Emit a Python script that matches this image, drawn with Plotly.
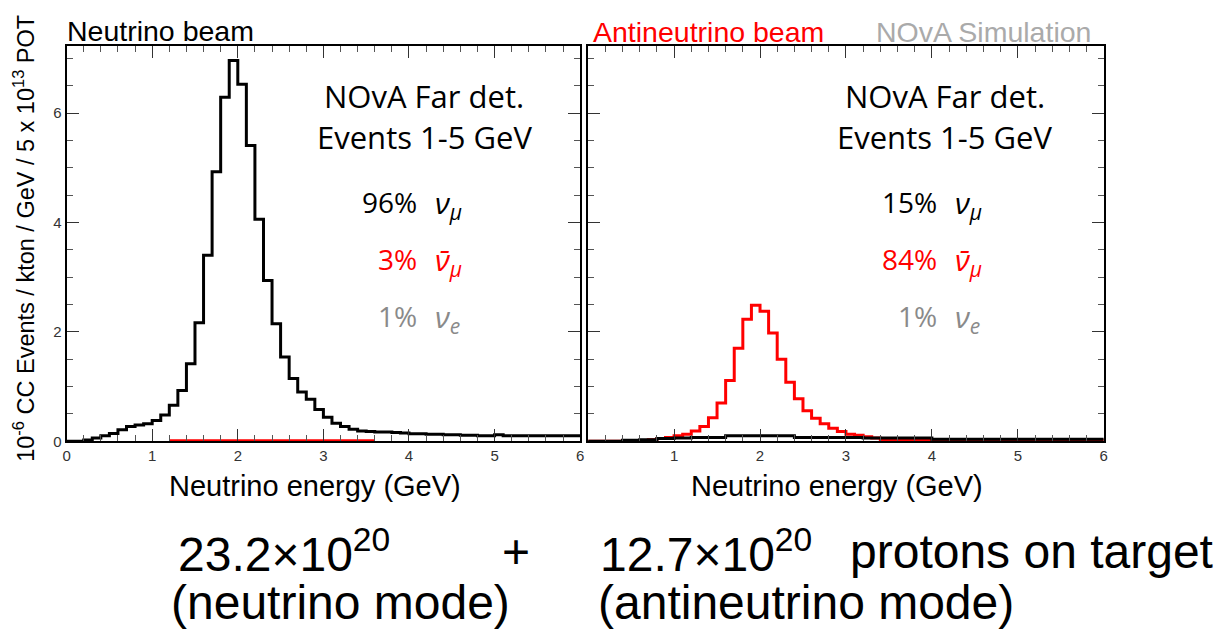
import plotly.graph_objects as go

# Figure size in pixels
W, H = 1222, 631

# 0.1 GeV bins from 0 to 6 GeV
bin_edges = [round(i * 0.1, 1) for i in range(61)]

# Neutrino beam (FHC): numu CC spectrum, 10^-6 events / kton / GeV / 5e13 POT
numu_fhc = [
    0.00, 0.00, 0.025, 0.06, 0.10, 0.145, 0.21, 0.27, 0.30, 0.32,
    0.38, 0.48, 0.66, 0.93, 1.42, 2.17, 3.40, 4.93, 6.29, 6.96,
    6.53, 5.41, 4.06, 2.94, 2.15, 1.54, 1.15, 0.90, 0.77, 0.58,
    0.44, 0.33, 0.27, 0.22, 0.19, 0.18, 0.17, 0.17, 0.16, 0.15,
    0.14, 0.14, 0.13, 0.13, 0.12, 0.12, 0.11, 0.11, 0.10, 0.10,
    0.12, 0.10, 0.10, 0.10, 0.10, 0.10, 0.10, 0.10, 0.10, 0.10,
]
# Neutrino beam: wrong-sign numubar component (1.2-3.6 GeV)
numubar_fhc_range = (12, 36)
numubar_fhc = [0.02] * 24

# Antineutrino beam (RHC): numubar CC spectrum
numubar_rhc = [
    0.00, 0.00, 0.00, 0.00, 0.00, 0.01, 0.015, 0.03, 0.05, 0.07,
    0.10, 0.13, 0.19, 0.27, 0.43, 0.70, 1.11, 1.70, 2.23, 2.49,
    2.38, 1.98, 1.50, 1.08, 0.78, 0.56, 0.42, 0.32, 0.24, 0.18,
    0.13, 0.11, 0.085, 0.06, 0.03, 0.02, 0.02, 0.02, 0.02, 0.02,
    0.02, 0.02, 0.02, 0.02, 0.02, 0.02, 0.02, 0.02, 0.02, 0.02,
    0.02, 0.02, 0.02, 0.02, 0.02, 0.02, 0.02, 0.02, 0.02, 0.02,
]
# Antineutrino beam: wrong-sign numu component
numu_rhc = [
    0.00, 0.00, 0.00, 0.00, 0.02, 0.02, 0.03, 0.03, 0.05, 0.05,
    0.06, 0.06, 0.07, 0.07, 0.07, 0.07, 0.10, 0.10, 0.10, 0.10,
    0.10, 0.10, 0.10, 0.10, 0.07, 0.07, 0.07, 0.07, 0.07, 0.07,
    0.07, 0.07, 0.06, 0.06, 0.06, 0.06, 0.06, 0.06, 0.06, 0.06,
    0.04, 0.04, 0.04, 0.04, 0.04, 0.04, 0.04, 0.04, 0.04, 0.04,
    0.04, 0.04, 0.04, 0.04, 0.04, 0.04, 0.04, 0.04, 0.04, 0.04,
]

# Beam composition (events 1-5 GeV)
fhc_fractions = ["96%", "3%", "1%"]
rhc_fractions = ["15%", "84%", "1%"]
flavour_labels = ["<i>ν<sub>μ</sub></i>", "<i>ν\u0304<sub>μ</sub></i>", "<i>ν<sub>e</sub></i>"]
flavour_colors = ["#000000", "#ff0000", "#8a8a8a"]

y_max = 7.22
x_ticks = [0, 1, 2, 3, 4, 5, 6]
y_ticks = [0, 2, 4, 6]


def px(x):
    return x / W


def py(y):
    return 1 - y / H


def step(values, lo=0, hi=60):
    xs = bin_edges[lo:hi + 1]
    ys = list(values) + [values[-1]]
    return xs, ys


fig = go.Figure()

x, y = step(numu_fhc)
fig.add_trace(go.Scatter(x=x, y=y, mode="lines", line=dict(shape="hv", color="black", width=3),
                         xaxis="x", yaxis="y", showlegend=False))
x, y = step(numubar_fhc, *numubar_fhc_range)
fig.add_trace(go.Scatter(x=x, y=y, mode="lines", line=dict(shape="hv", color="red", width=2),
                         xaxis="x", yaxis="y", showlegend=False))
x, y = step(numubar_rhc)
fig.add_trace(go.Scatter(x=x, y=y, mode="lines", line=dict(shape="hv", color="red", width=3),
                         xaxis="x2", yaxis="y2", showlegend=False))
x, y = step(numu_rhc)
fig.add_trace(go.Scatter(x=x, y=y, mode="lines", line=dict(shape="hv", color="black", width=3),
                         xaxis="x2", yaxis="y2", showlegend=False))

tick_font = dict(family="Liberation Sans Narrow, Liberation Sans, Arial", size=15, color="#333333")
ydom = [py(447), py(47)]

common_x = dict(range=[0, 6], showline=True, linewidth=2, linecolor="black", mirror="ticks",
                ticks="inside", ticklen=12, tickwidth=1.3, tickcolor="#333333",
                minor=dict(dtick=0.2, ticklen=6, ticks="inside", tickwidth=1, tickcolor="#555555"),
                showgrid=False, zeroline=False, tickfont=tick_font, fixedrange=True)
common_y = dict(range=[0, y_max], showline=True, linewidth=2, linecolor="black", mirror="ticks",
                ticks="inside", ticklen=12, tickwidth=1.3, tickcolor="#333333",
                minor=dict(dtick=0.5, ticklen=6, ticks="inside", tickwidth=1, tickcolor="#555555"),
                showgrid=False, zeroline=False, tickfont=tick_font, fixedrange=True)

fig.update_layout(
    width=W, height=H,
    margin=dict(l=0, r=0, t=0, b=0),
    paper_bgcolor="white", plot_bgcolor="white",
    xaxis=dict(domain=[px(63), px(580)], anchor="y", tickvals=x_ticks,
               ticktext=[str(v) for v in x_ticks], **common_x),
    yaxis=dict(domain=ydom, anchor="x", tickvals=y_ticks,
               ticktext=[str(v) for v in y_ticks], **common_y),
    xaxis2=dict(domain=[px(588), px(1107)], anchor="y2", tickvals=x_ticks[1:],
                ticktext=[str(v) for v in x_ticks[1:]], **common_x),
    yaxis2=dict(domain=ydom, anchor="x2", tickvals=y_ticks, showticklabels=False, **common_y),
)

ann = []


def text(x, y, s, size, color="black", family="Liberation Sans, Arial", xanchor="center", angle=0):
    ann.append(dict(x=px(x), y=py(y), xref="paper", yref="paper", text=s, showarrow=False,
                    xanchor=xanchor, yanchor="middle", textangle=angle,
                    font=dict(family=family, size=size, color=color)))


arial = "Liberation Sans, Arial"
box_font = "Open Sans, Noto Sans"

# Panel headers
text(61, 31, "Neutrino beam", 28.5, "black", arial, "left")
text(591, 32, "Antineutrino beam", 28.5, "#ff0000", arial, "left")
text(876, 32, "NOvA Simulation", 28.5, "#aaaaaa", arial, "left")

# Axis titles
text(20, 241, "10<sup>-6</sup> CC Events / kton / GeV / 5 x 10<sup>13</sup> POT", 23.5, "black",
     arial, "center", -90)
text(313, 492, "Neutrino energy (GeV)", 29, "black", arial)
text(838, 492, "Neutrino energy (GeV)", 29, "black", arial)

# Detector / selection labels and beam composition
for cx, fracs, num_x in [(423, fhc_fractions, 418), (947, rhc_fractions, 941)]:
    text(cx, 97, "NOvA Far det.", 31, "black", box_font)
    text(cx, 139, "Events 1-5 GeV", 31, "black", box_font)
    for i, (frac, lab, col) in enumerate(zip(fracs, flavour_labels, flavour_colors)):
        yy = 205 + i * 57.5
        text(num_x, yy, frac, 28, col, box_font, "right")
        text(num_x + 14, yy + 2, lab, 30, col, box_font, "left")

# Exposure summary
text(173, 558, "23.2×10<sup>20</sup>", 48, "black", arial, "left")
text(515, 559, "+", 48, "black", arial)
text(598, 558, "12.7×10<sup>20</sup>", 48, "black", arial, "left")
text(850, 559, "protons on target", 48, "black", arial, "left")
text(166, 610, "(neutrino mode)", 48, "black", arial, "left")
text(596, 610, "(antineutrino mode)", 48, "black", arial, "left")

fig.update_layout(annotations=ann)
fig.write_html("out.html")
